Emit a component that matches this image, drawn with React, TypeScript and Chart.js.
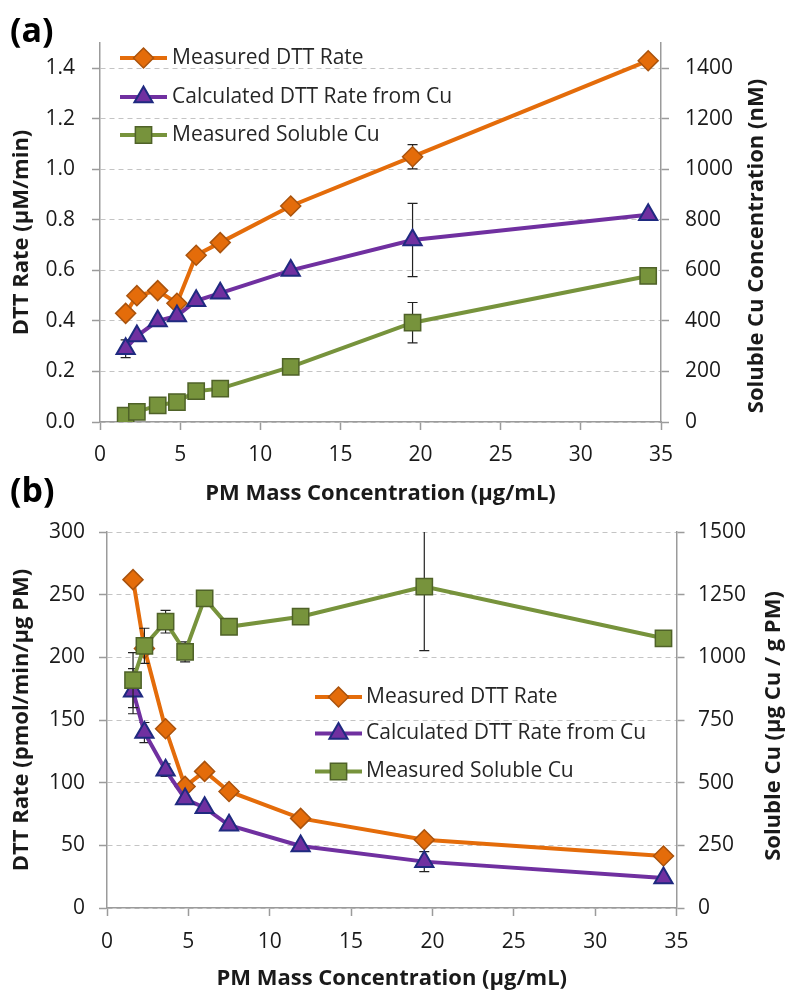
import React, { useEffect, useRef } from 'react';
import { Chart, registerables } from 'chart.js';

Chart.register(...registerables);

// ---------- Data ----------
const pmConc = [1.6, 2.3, 3.6, 4.8, 6.0, 7.5, 11.9, 19.5, 34.2];
const xTickValues = [0, 5, 10, 15, 20, 25, 30, 35];

// Panel (a)
const dttMeasuredA = [0.43, 0.5, 0.52, 0.47, 0.66, 0.71, 0.855, 1.05, 1.43];
const dttMeasuredErrA = [0, 0, 0, 0, 0, 0, 0, 0.048, 0];
const dttCalcA = [0.29, 0.34, 0.4, 0.42, 0.48, 0.51, 0.6, 0.72, 0.82];
const dttCalcErrA = [0.035, 0, 0, 0, 0, 0, 0, 0.145, 0];
const cuA = [25, 40, 66, 79, 122, 132, 218, 393, 578];
const cuErrA = [0, 0, 0, 0, 0, 0, 0, 80, 0];
const leftTicksA = [0, 0.2, 0.4, 0.6, 0.8, 1.0, 1.2, 1.4];
const rightTicksA = [0, 200, 400, 600, 800, 1000, 1200, 1400];

// Panel (b)
const dttMeasuredB = [262, 207, 143, 97, 109, 93, 71.5, 54.5, 41.5];
const dttMeasuredErrB = [0, 0, 0, 0, 0, 0, 0, 0, 0];
const dttCalcB = [173, 140, 110, 87, 80, 66, 49.5, 37, 24];
const dttCalcErrB = [18, 8, 5, 0, 0, 0, 0, 8, 0];
const cuB = [909, 1046, 1142, 1022, 1235, 1122, 1162, 1282, 1076];
const cuErrB = [110, 70, 45, 40, 0, 0, 30, 255, 0];
const leftTicksB = [0, 50, 100, 150, 200, 250, 300];
const rightTicksB = [0, 250, 500, 750, 1000, 1250, 1500];

const seriesLabels = ['Measured DTT Rate', 'Calculated DTT Rate from Cu', 'Measured Soluble Cu'];

// ---------- Styles ----------
const FONT = '"Open Sans", sans-serif';
const TEXT = '#1a1a1a';
const AXIS = '#9b9b9b';
const GRID = '#c4c4c4';
const ORANGE = '#E46C0A';
const ORANGE_EDGE = '#A9530E';
const PURPLE = '#7030A0';
const PURPLE_EDGE = '#1F2A80';
const GREEN = '#77933C';
const GREEN_EDGE = '#4F6228';

Chart.defaults.font.family = FONT;

function drawMarker(ctx: CanvasRenderingContext2D, style: string, r: number, x: number, y: number, fill: string, stroke: string, bw: number) {
  ctx.beginPath();
  if (style === 'rectRot') {
    ctx.moveTo(x - r, y);
    ctx.lineTo(x, y - r);
    ctx.lineTo(x + r, y);
    ctx.lineTo(x, y + r);
    ctx.closePath();
  } else if (style === 'triangle') {
    let rad = 0;
    ctx.moveTo(x + Math.sin(rad) * r, y - Math.cos(rad) * r);
    rad += (2 * Math.PI) / 3;
    ctx.lineTo(x + Math.sin(rad) * r, y - Math.cos(rad) * r);
    rad += (2 * Math.PI) / 3;
    ctx.lineTo(x + Math.sin(rad) * r, y - Math.cos(rad) * r);
    ctx.closePath();
  } else {
    const s = r * Math.SQRT1_2;
    ctx.rect(x - s, y - s, 2 * s, 2 * s);
  }
  ctx.fillStyle = fill;
  ctx.fill();
  ctx.lineWidth = bw;
  ctx.strokeStyle = stroke;
  ctx.stroke();
}

const errorBarPlugin = {
  id: 'errorBars',
  beforeDatasetDraw(chart: any, args: any) {
    const ds = chart.data.datasets[args.index];
    const errs: number[] | undefined = ds.errorBars;
    if (!errs) return;
    const meta = args.meta;
    const xs = chart.scales[meta.xAxisID];
    const ys = chart.scales[meta.yAxisID];
    const ctx: CanvasRenderingContext2D = chart.ctx;
    const a = chart.chartArea;
    ctx.save();
    ctx.beginPath();
    ctx.rect(a.left, a.top, a.right - a.left, a.bottom - a.top);
    ctx.clip();
    ctx.strokeStyle = '#222222';
    ctx.lineWidth = 1.2;
    ds.data.forEach((pt: any, i: number) => {
      const e = errs[i];
      if (!e) return;
      const x = xs.getPixelForValue(pt.x);
      const yt = ys.getPixelForValue(pt.y + e);
      const yb = ys.getPixelForValue(pt.y - e);
      ctx.beginPath();
      ctx.moveTo(x, yt);
      ctx.lineTo(x, yb);
      ctx.moveTo(x - 5, yt);
      ctx.lineTo(x + 5, yt);
      ctx.moveTo(x - 5, yb);
      ctx.lineTo(x + 5, yb);
      ctx.stroke();
    });
    ctx.restore();
  },
};

function makeLegendPlugin(x0: number, x1: number, textX: number, ys: number[]) {
  return {
    id: 'panelLegend',
    afterDatasetsDraw(chart: any) {
      const ctx: CanvasRenderingContext2D = chart.ctx;
      chart.data.datasets.forEach((ds: any, i: number) => {
        const y = ys[i];
        ctx.save();
        ctx.strokeStyle = ds.borderColor;
        ctx.lineWidth = ds.borderWidth;
        ctx.beginPath();
        ctx.moveTo(x0, y);
        ctx.lineTo(x1, y);
        ctx.stroke();
        drawMarker(ctx, ds.pointStyle, ds.pointRadius, (x0 + x1) / 2, y, ds.pointBackgroundColor, ds.pointBorderColor, ds.pointBorderWidth);
        ctx.fillStyle = '#262626';
        ctx.font = `21px ${FONT}`;
        ctx.textAlign = 'left';
        ctx.textBaseline = 'middle';
        ctx.fillText(ds.label, textX, y);
        ctx.restore();
      });
    },
  };
}

function makeRightTitlePlugin(text: string, x: number, y: number) {
  return {
    id: 'rightTitle',
    afterDraw(chart: any) {
      const ctx: CanvasRenderingContext2D = chart.ctx;
      ctx.save();
      ctx.translate(x, y);
      ctx.rotate(-Math.PI / 2);
      ctx.font = `bold 22px ${FONT}`;
      ctx.fillStyle = TEXT;
      ctx.textAlign = 'center';
      ctx.textBaseline = 'middle';
      ctx.fillText(text, 0, 0);
      ctx.restore();
    },
  };
}

interface PanelSpec {
  height: number;
  padTop: number;
  leftW: number;
  rightW: number;
  xH: number;
  xTickPad: number;
  xTitlePad: number;
  leftTickPad: number;
  rightTickPad: number;
  leftMax: number;
  rightMax: number;
  leftTicks: number[];
  rightTicks: number[];
  leftDecimals: number;
  leftTitle: string;
  rightTitle: string;
  rightTitleX: number;
  rightTitleY: number;
  legend: { x0: number; x1: number; textX: number; ys: number[] };
  measured: number[];
  measuredErr: number[];
  calc: number[];
  calcErr: number[];
  cu: number[];
  cuErr: number[];
}

function makeConfig(s: PanelSpec): any {
  const pts = (arr: number[]) => pmConc.map((x, i) => ({ x, y: arr[i] }));
  const datasets = [
    {
      label: seriesLabels[0],
      data: pts(s.measured),
      errorBars: s.measuredErr,
      yAxisID: 'y',
      order: 3,
      borderColor: ORANGE,
      borderWidth: 4,
      pointStyle: 'rectRot',
      pointRadius: 10,
      pointBackgroundColor: ORANGE,
      pointBorderColor: ORANGE_EDGE,
      pointBorderWidth: 1.5,
      tension: 0,
    },
    {
      label: seriesLabels[1],
      data: pts(s.calc),
      errorBars: s.calcErr,
      yAxisID: 'y',
      order: 2,
      borderColor: PURPLE,
      borderWidth: 4,
      pointStyle: 'triangle',
      pointRadius: 10.5,
      pointBackgroundColor: PURPLE,
      pointBorderColor: PURPLE_EDGE,
      pointBorderWidth: 2,
      tension: 0,
    },
    {
      label: seriesLabels[2],
      data: pts(s.cu),
      errorBars: s.cuErr,
      yAxisID: 'y1',
      order: 1,
      borderColor: GREEN,
      borderWidth: 4,
      pointStyle: 'rect',
      pointRadius: 11.5,
      pointBackgroundColor: GREEN,
      pointBorderColor: GREEN_EDGE,
      pointBorderWidth: 1.5,
      tension: 0,
    },
  ];
  return {
    type: 'line',
    data: { datasets },
    options: {
      responsive: false,
      animation: false,
      events: [],
      layout: { padding: { top: s.padTop, left: 0, right: 0, bottom: 0 } },
      plugins: { legend: { display: false }, tooltip: { enabled: false } },
      scales: {
        x: {
          type: 'linear',
          position: 'bottom',
          min: 0,
          max: 35,
          afterBuildTicks: (sc: any) => {
            sc.ticks = xTickValues.map((v) => ({ value: v }));
          },
          afterFit: (sc: any) => {
            sc.height = s.xH;
            sc.paddingLeft = 0;
            sc.paddingRight = 0;
          },
          ticks: {
            font: { size: 21 },
            color: TEXT,
            padding: s.xTickPad,
            maxRotation: 0,
            autoSkip: false,
            callback: (v: any) => String(v),
          },
          grid: { drawOnChartArea: false, tickLength: 8, tickColor: AXIS, tickWidth: 1.5, color: AXIS },
          border: { color: AXIS, width: 1.5 },
          title: {
            display: true,
            text: 'PM Mass Concentration (µg/mL)',
            font: { size: 22, weight: 'bold' },
            color: TEXT,
            padding: { top: 0, bottom: s.xTitlePad },
          },
        },
        y: {
          type: 'linear',
          position: 'left',
          min: 0,
          max: s.leftMax,
          afterBuildTicks: (sc: any) => {
            sc.ticks = s.leftTicks.map((v) => ({ value: v }));
          },
          afterFit: (sc: any) => {
            sc.width = s.leftW;
            sc.paddingTop = 0;
            sc.paddingBottom = 0;
          },
          ticks: {
            font: { size: 21 },
            color: TEXT,
            padding: s.leftTickPad,
            callback: (v: any) => Number(v).toFixed(s.leftDecimals),
          },
          grid: { color: GRID, lineWidth: 1, tickLength: 8, tickColor: AXIS, tickWidth: 1.5 },
          border: { color: AXIS, width: 1.5, dash: [5, 4] },
          title: {
            display: true,
            text: s.leftTitle,
            font: { size: 22, weight: 'bold' },
            color: TEXT,
            padding: { top: 9, bottom: 0 },
          },
        },
        y1: {
          type: 'linear',
          position: 'right',
          min: 0,
          max: s.rightMax,
          afterBuildTicks: (sc: any) => {
            sc.ticks = s.rightTicks.map((v) => ({ value: v }));
          },
          afterFit: (sc: any) => {
            sc.width = s.rightW;
            sc.paddingTop = 0;
            sc.paddingBottom = 0;
          },
          ticks: {
            font: { size: 21 },
            color: TEXT,
            padding: s.rightTickPad,
            callback: (v: any) => String(v),
          },
          grid: { drawOnChartArea: false, tickLength: 8, tickColor: AXIS, tickWidth: 1.5, color: AXIS },
          border: { color: AXIS, width: 1.5 },
        },
      },
    },
    plugins: [
      errorBarPlugin,
      makeLegendPlugin(s.legend.x0, s.legend.x1, s.legend.textX, s.legend.ys),
      makeRightTitlePlugin(s.rightTitle, s.rightTitleX, s.rightTitleY),
    ],
  };
}

const specA: PanelSpec = {
  height: 510,
  padTop: 43,
  leftW: 100,
  rightW: 130,
  xH: 88,
  xTickPad: 12,
  xTitlePad: 3,
  leftTickPad: 17,
  rightTickPad: 16,
  leftMax: 1.5,
  rightMax: 1500,
  leftTicks: leftTicksA,
  rightTicks: rightTicksA,
  leftDecimals: 1,
  leftTitle: 'DTT Rate (µM/min)',
  rightTitle: 'Soluble Cu Concentration (nM)',
  rightTitleX: 757,
  rightTitleY: 246,
  legend: { x0: 120, x1: 167, textX: 172, ys: [58, 97, 135] },
  measured: dttMeasuredA,
  measuredErr: dttMeasuredErrA,
  calc: dttCalcA,
  calcErr: dttCalcErrA,
  cu: cuA,
  cuErr: cuErrA,
};

const specB: PanelSpec = {
  height: 482,
  padTop: 22,
  leftW: 107,
  rightW: 114.5,
  xH: 84,
  xTickPad: 13,
  xTitlePad: 0,
  leftTickPad: 14,
  rightTickPad: 13.5,
  leftMax: 300,
  rightMax: 1500,
  leftTicks: leftTicksB,
  rightTicks: rightTicksB,
  leftDecimals: 0,
  leftTitle: 'DTT Rate (pmol/min/µg PM)',
  rightTitle: 'Soluble Cu (µg Cu / g PM)',
  rightTitleX: 774,
  rightTitleY: 216,
  legend: { x0: 315, x1: 362, textX: 366, ys: [187, 223.5, 261.5] },
  measured: dttMeasuredB,
  measuredErr: dttMeasuredErrB,
  calc: dttCalcB,
  calcErr: dttCalcErrB,
  cu: cuB,
  cuErr: cuErrB,
};

function Panel({ spec, top, tag, tagTop }: { spec: PanelSpec; top: number; tag: string; tagTop: number }) {
  const ref = useRef<HTMLCanvasElement>(null);
  useEffect(() => {
    if (!ref.current) return;
    const chart = new Chart(ref.current, makeConfig(spec));
    return () => chart.destroy();
  }, [spec]);
  return (
    <>
      <div style={{ position: 'absolute', left: 0, top, width: 791, height: spec.height }}>
        <canvas ref={ref} width={791} height={spec.height} style={{ display: 'block', width: 791, height: spec.height }} />
      </div>
      <div
        style={{
          position: 'absolute',
          left: 10,
          top: tagTop,
          fontFamily: FONT,
          fontWeight: 'bold',
          fontSize: 34,
          lineHeight: '34px',
          color: '#000',
        }}
      >
        {tag}
      </div>
    </>
  );
}

export default function App() {
  return (
    <div style={{ position: 'absolute', left: 0, top: 0, width: 791, height: 992, background: '#fff', overflow: 'hidden' }}>
      <Panel spec={specA} top={0} tag="(a)" tagTop={12} />
      <Panel spec={specB} top={510} tag="(b)" tagTop={472} />
    </div>
  );
}
